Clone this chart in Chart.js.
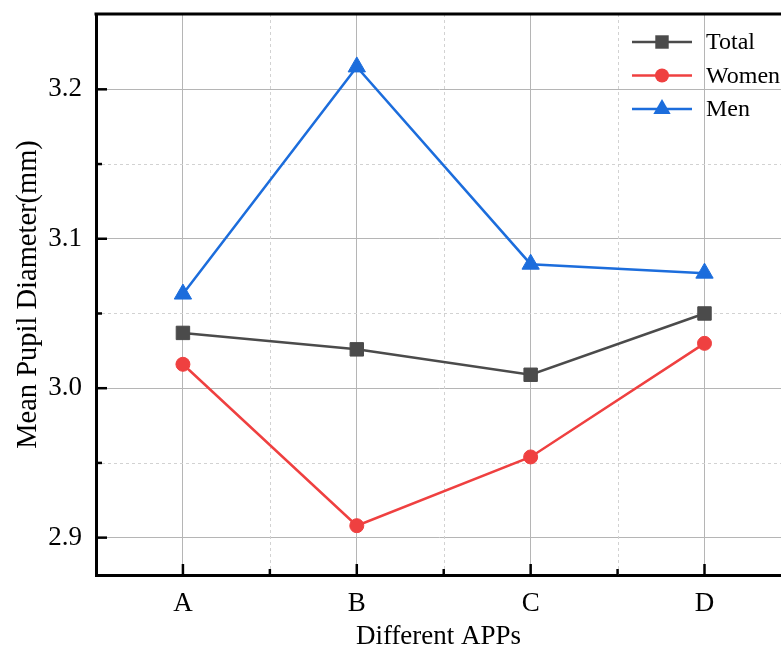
<!DOCTYPE html>
<html>
<head>
<meta charset="utf-8">
<script src="https://cdn.jsdelivr.net/npm/chart.js@4"></script>
<style>
html, body { margin: 0; padding: 0; overflow: hidden; background: #fff; }
</style>
</head>
<body>
<canvas id="chart" width="792" height="659"></canvas>
<script>
const apps = ['A', 'B', 'C', 'D'];
const total = [3.037, 3.026, 3.009, 3.050];
const women = [3.016, 2.908, 2.954, 3.030];
const men = [3.063, 3.215, 3.083, 3.077];
const yTicks = [2.9, 3.0, 3.1, 3.2];
const yMinor = [2.95, 3.05, 3.15];
const xMinor = [0.5, 1.5, 2.5];

const serif = '"Liberation Serif", "Times New Roman", serif';
const gray = '#4b4b4b', red = '#ef4040', blue = '#1c6ddc';

function points(vals) {
    return apps.map((c, i) => ({x: i, y: vals[i]}));
}

function marker(ctx, style, x, y, r) {
    ctx.beginPath();
    if (style === 'rect') {
        let s = Math.SQRT1_2 * r;
        ctx.rect(x - s, y - s, 2 * s, 2 * s);
    } else if (style === 'circle') {
        ctx.arc(x, y, r, 0, Math.PI * 2);
    } else {
        ctx.moveTo(x, y - r);
        ctx.lineTo(x + r * 0.866, y + r / 2);
        ctx.lineTo(x - r * 0.866, y + r / 2);
        ctx.closePath();
    }
    ctx.fill();
}

// dotted minor grid, inward ticks, top frame line and the legend box
const frame = {
    id: 'frame',
    beforeDatasetsDraw(chart) {
        const ctx = chart.ctx, a = chart.chartArea, x = chart.scales.x, y = chart.scales.y;
        ctx.save();
        ctx.strokeStyle = '#d2d2d2';
        ctx.lineWidth = 1;
        ctx.setLineDash([3, 3]);
        yMinor.forEach(v => {
            let py = Math.round(y.getPixelForValue(v)) + 0.5;
            ctx.beginPath(); ctx.moveTo(a.left, py); ctx.lineTo(a.right, py); ctx.stroke();
        });
        xMinor.forEach(v => {
            let px = Math.round(x.getPixelForValue(v)) + 0.5;
            ctx.beginPath(); ctx.moveTo(px, a.top); ctx.lineTo(px, a.bottom); ctx.stroke();
        });
        ctx.setLineDash([]);
        ctx.strokeStyle = '#000';
        ctx.lineWidth = 3;
        ctx.beginPath(); ctx.moveTo(a.left - 1.5, a.top); ctx.lineTo(a.right, a.top); ctx.stroke();
        ctx.lineWidth = 2.5;
        yTicks.forEach(v => {
            let py = y.getPixelForValue(v);
            ctx.beginPath(); ctx.moveTo(a.left, py); ctx.lineTo(a.left + 11, py); ctx.stroke();
        });
        yMinor.forEach(v => {
            let py = y.getPixelForValue(v);
            ctx.beginPath(); ctx.moveTo(a.left, py); ctx.lineTo(a.left + 6, py); ctx.stroke();
        });
        apps.forEach((c, i) => {
            let px = x.getPixelForValue(i);
            ctx.beginPath(); ctx.moveTo(px, a.bottom); ctx.lineTo(px, a.bottom - 11); ctx.stroke();
        });
        xMinor.forEach(v => {
            let px = x.getPixelForValue(v);
            ctx.beginPath(); ctx.moveTo(px, a.bottom); ctx.lineTo(px, a.bottom - 6); ctx.stroke();
        });
        ctx.restore();
    },
    afterDraw(chart) {
        const ctx = chart.ctx;
        ctx.save();
        chart.data.datasets.forEach((ds, i) => {
            let ly = 42 + i * 33.5;
            ctx.strokeStyle = ds.borderColor;
            ctx.fillStyle = ds.borderColor;
            ctx.lineWidth = 2.5;
            ctx.beginPath(); ctx.moveTo(632, ly); ctx.lineTo(692, ly); ctx.stroke();
            marker(ctx, ds.pointStyle, 662, ly, ds.pointRadius);
            ctx.fillStyle = '#000';
            ctx.font = '24px ' + serif;
            ctx.textBaseline = 'middle';
            ctx.fillText(ds.label, 706, ly + 1);
        });
        ctx.restore();
    }
};

const data = {
    datasets: [
        {label: 'Total', data: points(total), borderColor: gray, backgroundColor: gray,
            pointStyle: 'rect', pointRadius: 9.5, borderWidth: 2.5, pointBorderWidth: 1},
        {label: 'Women', data: points(women), borderColor: red, backgroundColor: red,
            pointStyle: 'circle', pointRadius: 7, borderWidth: 2.5, pointBorderWidth: 1},
        {label: 'Men', data: points(men), borderColor: blue, backgroundColor: blue,
            pointStyle: 'triangle', pointRadius: 10, borderWidth: 2.5, pointBorderWidth: 1}
    ]
};

const config = {
    type: 'line',
    data: data,
    options: {
        responsive: false,
        animation: false,
        layout: {padding: {top: 14, right: 0, left: 0, bottom: 0}},
        plugins: {legend: {display: false}, tooltip: {enabled: false}},
        scales: {
            x: {
                type: 'linear', min: -0.5, max: 3.44,
                afterBuildTicks: s => { s.ticks = apps.map((c, i) => ({value: i})); },
                afterFit: s => { s.height = 84; s.paddingLeft = 0; s.paddingRight = 0; },
                ticks: {callback: v => apps[v], font: {family: serif, size: 27}, color: '#000',
                    padding: 13, autoSkip: false, maxRotation: 0},
                grid: {color: '#b5b5b5', lineWidth: 1, drawTicks: false},
                border: {color: '#000', width: 3},
                title: {display: true, text: 'Different APPs', font: {family: serif, size: 27},
                    color: '#000', padding: {top: 0, bottom: 6}}
            },
            y: {
                min: 2.875, max: 3.2504,
                afterBuildTicks: s => { s.ticks = yTicks.map(v => ({value: v})); },
                afterFit: s => { s.width = 96; s.paddingTop = 0; s.paddingBottom = 0; },
                ticks: {callback: v => v.toFixed(1), font: {family: serif, size: 27}, color: '#000', padding: 14},
                grid: {color: '#b5b5b5', lineWidth: 1, drawTicks: false},
                border: {color: '#000', width: 3},
                title: {display: true, text: 'Mean Pupil Diameter(mm)', font: {family: serif, size: 28.5},
                    color: '#000', padding: {top: 11, bottom: 0}}
            }
        }
    },
    plugins: [frame]
};

let ctx = document.getElementById('chart').getContext('2d');
new Chart(ctx, config);
</script>
</body>
</html>
